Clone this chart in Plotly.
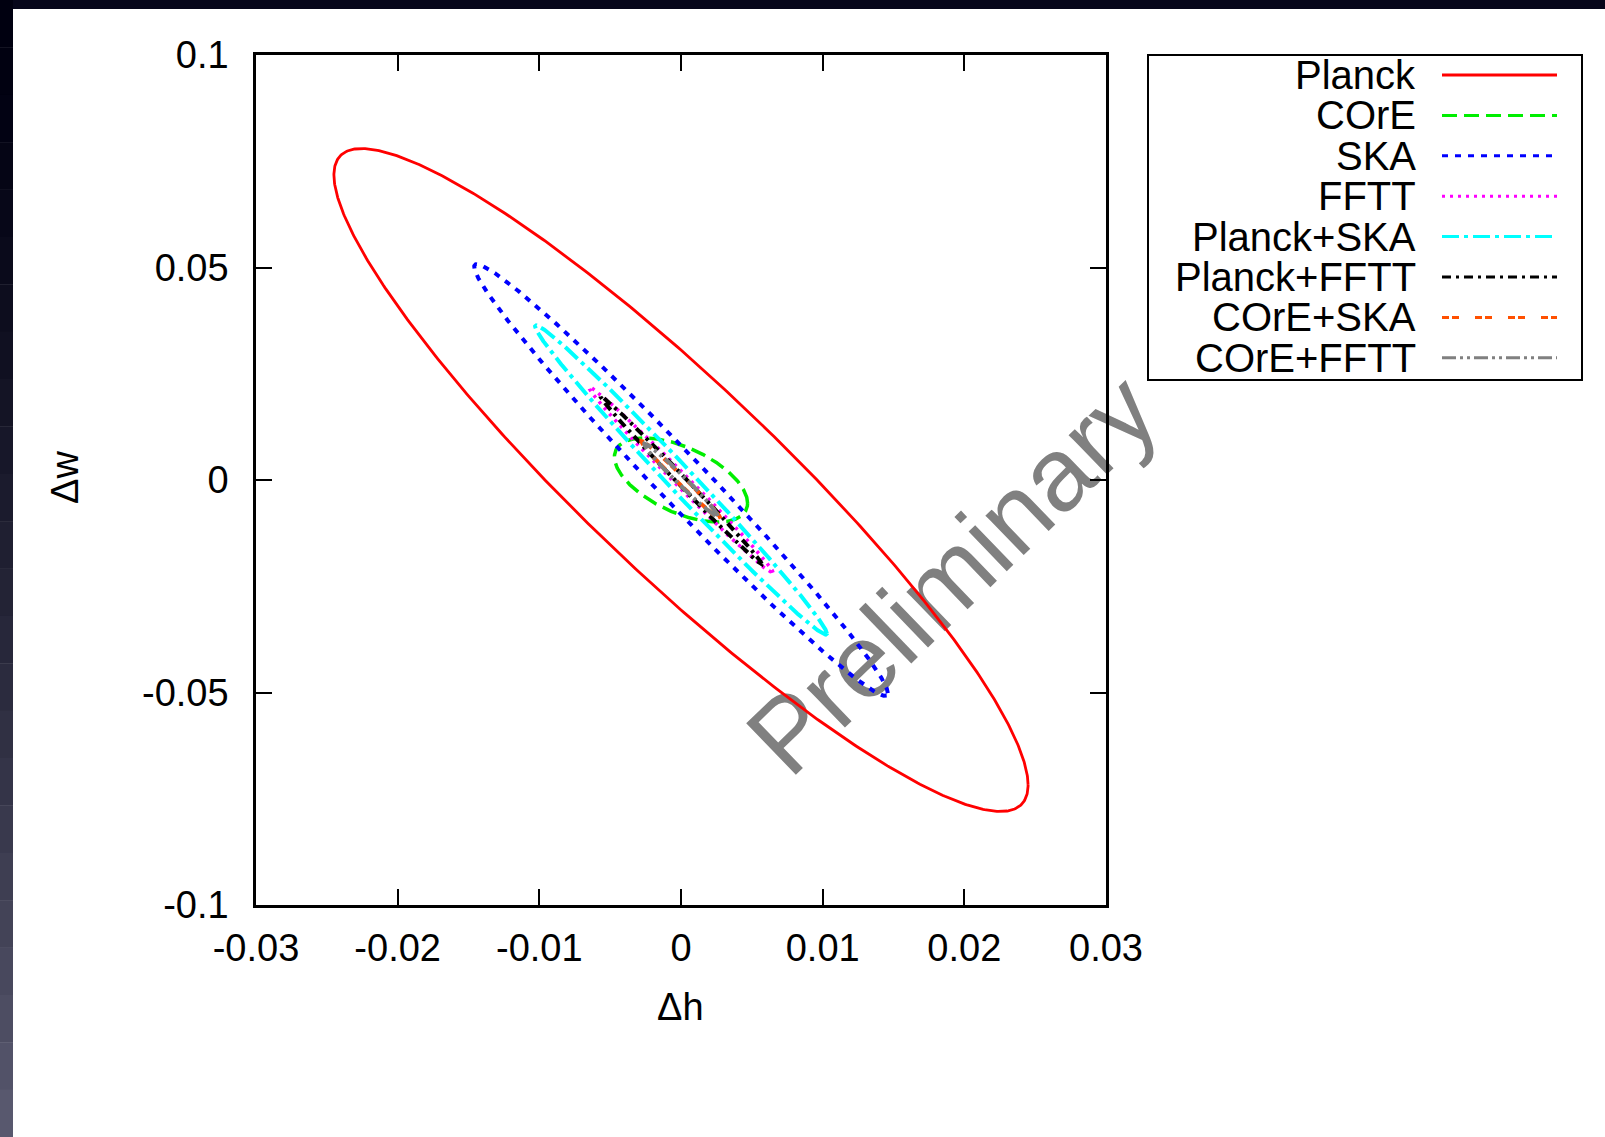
import numpy as np
import plotly.graph_objects as go

# ---------------- data ----------------
experiments = ["Planck", "COrE", "SKA", "FFTT", "Planck+SKA", "Planck+FFTT", "COrE+SKA", "COrE+FFTT"]
# contour half-extents in Δh and Δw, and correlation coefficient
extent_h = [0.0245, 0.0047, 0.0146, 0.0065, 0.0103, 0.0057, 0.0028, 0.0026]
extent_w = [0.0780, 0.0099, 0.0508, 0.0219, 0.0364, 0.0198, 0.0092, 0.0086]
correlation = [-0.920, -0.550, -0.987, -0.995, -0.993, -0.997, -0.990, -0.985]

x_tickvals = [-0.03, -0.02, -0.01, 0, 0.01, 0.02, 0.03]
x_ticktext = ["-0.03", "-0.02", "-0.01", "0", "0.01", "0.02", "0.03"]
y_tickvals = [-0.1, -0.05, 0, 0.05, 0.1]
y_ticktext = ["-0.1", "-0.05", "0", "0.05", "0.1"]

# ---------------- styles ----------------
colors = ["#ff0000", "#00ee00", "#0000ff", "#ff00ff", "#00ffff", "#000000", "#ff5000", "#808080"]
dashes = ["solid", "15px,7px", "6px,7px", "3px,5px", "17px,5px,4px,5px",
          "9px,5px,3px,5px", "7px,3px,7px,16px", "14px,4px,3px,4px,3px,4px"]
widths = [2.8, 3.5, 4, 3.5, 4, 4, 4, 4]

FONT = "Liberation Sans, Arial, Helvetica, sans-serif"
W, H = 1605, 1137
L, R, T, B = 256, 1106, 55, 905


def px(x):
    return (x - L) / (R - L)


def py(y):
    return 1 - (y - T) / (B - T)


fig = go.Figure()
t = np.linspace(0, 2 * np.pi, 721)
for name, a, b, r, c, d, w in zip(experiments, extent_h, extent_w, correlation, colors, dashes, widths):
    xs = a * np.cos(t)
    ys = b * (r * np.cos(t) + np.sqrt(1 - r * r) * np.sin(t))
    fig.add_trace(go.Scatter(x=xs, y=ys, mode="lines", name=name,
                             line=dict(color=c, dash=d, width=w), showlegend=False,
                             hoverinfo="skip"))

shapes = []
# slide dark border (top and left with gradient)
shapes.append(dict(type="rect", xref="paper", yref="paper", x0=px(0), x1=px(W), y0=py(0), y1=py(9),
                   fillcolor="#06061a", line=dict(width=0), layer="below"))
n = 24
c0 = np.array([0, 0, 16])
c1 = np.array([88, 88, 110])
for i in range(n):
    f = i / (n - 1)
    f2 = f ** 1.4
    col = c0 + (c1 - c0) * f2
    y0 = i * H / n
    y1 = (i + 1) * H / n
    shapes.append(dict(type="rect", xref="paper", yref="paper", x0=px(0), x1=px(13),
                       y0=py(y0), y1=py(y1) - 0.0005,
                       fillcolor="rgb(%d,%d,%d)" % tuple(col.astype(int)),
                       line=dict(width=0), layer="below"))

# watermark
shapes.append(dict(type="rect", xref="paper", yref="paper",
                   x0=px(895), x1=px(995), y0=py(617), y1=py(517),
                   line=dict(width=0, color="rgba(0,0,0,0)"), fillcolor="rgba(0,0,0,0)",
                   layer="below",
                   label=dict(text="Preliminary", textangle=-44, textposition="middle center",
                              font=dict(family=FONT, size=104, color="#808080"))))

# legend box
lg_x0, lg_x1, lg_y0, lg_y1 = 1148, 1582, 55, 380
shapes.append(dict(type="rect", xref="paper", yref="paper", x0=px(lg_x0), x1=px(lg_x1),
                   y0=py(lg_y0), y1=py(lg_y1), line=dict(color="black", width=2),
                   fillcolor="white", layer="above"))
annotations = []
row0, drow = 75, 40.4
for i, (name, c, d, w) in enumerate(zip(experiments, colors, dashes, widths)):
    yy = row0 + i * drow
    shapes.append(dict(type="line", xref="paper", yref="paper", x0=px(1442), x1=px(1557),
                       y0=py(yy), y1=py(yy), line=dict(color=c, dash=d, width=3), layer="above"))
    annotations.append(dict(text=name, xref="paper", yref="paper", x=px(1418), y=py(yy),
                            xanchor="right", yanchor="middle", showarrow=False,
                            font=dict(family=FONT, size=40, color="black")))

# axis titles
annotations.append(dict(text="Δw", xref="paper", yref="paper", x=px(65), y=py(478),
                        xanchor="center", yanchor="middle", textangle=-90, showarrow=False,
                        font=dict(family=FONT, size=38, color="black")))
annotations.append(dict(text="Δh", xref="paper", yref="paper", x=px(680), y=py(1007),
                        xanchor="center", yanchor="middle", showarrow=False,
                        font=dict(family=FONT, size=38, color="black")))

axis_common = dict(showgrid=False, zeroline=False, showline=True, linecolor="black", linewidth=2.5,
                   mirror="allticks", ticks="inside", ticklen=16, tickwidth=2, tickcolor="black",
                   tickfont=dict(family=FONT, size=38, color="black"))

fig.update_layout(
    width=W, height=H,
    margin=dict(l=L, r=W - R, t=T, b=H - B, pad=0),
    paper_bgcolor="white", plot_bgcolor="rgba(0,0,0,0)",
    xaxis=dict(range=[-0.03, 0.03], tickvals=x_tickvals, ticktext=x_ticktext,
               ticklabelstandoff=8, **axis_common),
    yaxis=dict(range=[-0.1, 0.1], tickvals=y_tickvals, ticktext=y_ticktext,
               ticklabelstandoff=17, **axis_common),
    shapes=shapes, annotations=annotations, showlegend=False,
)

fig.write_html("out.html")
